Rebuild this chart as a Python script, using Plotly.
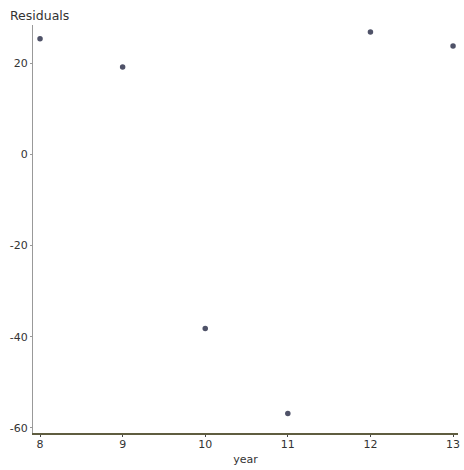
import plotly.graph_objects as go

years = [8, 9, 10, 11, 12, 13]
residuals = [25.3, 19.1, -38.2, -56.8, 26.8, 23.7]

x_ticks = [8, 9, 10, 11, 12, 13]
x_labels = ["8", "9", "10", "11", "12", "13"]
y_ticks = [20, 0, -20, -40, -60]
y_labels = ["20", "0", "-20", "-40", "-60"]

font = dict(family="DejaVu Sans", size=11, color="#333333")

fig = go.Figure(go.Scatter(
    x=years, y=residuals, mode="markers",
    marker=dict(size=5.5, color="#4f5268"),
    showlegend=False, hoverinfo="skip"))

fig.update_layout(
    width=464, height=470,
    margin=dict(l=33, r=6, t=25, b=37),
    paper_bgcolor="white", plot_bgcolor="white",
    font=font,
    xaxis=dict(range=[7.915, 13.06], tickvals=x_ticks, ticktext=x_labels,
               showgrid=False, zeroline=False, showline=True, automargin=False,
               linecolor="#5f5d40", linewidth=2, ticks="outside",
               ticklen=2, tickcolor="#444", ticklabelstandoff=-2,
               title=dict(text="year", standoff=5, font=font)),
    yaxis=dict(range=[-61.1, 28.33], tickvals=y_ticks, ticktext=y_labels,
               showgrid=False, zeroline=False, showline=True, automargin=False,
               linecolor="#999999", linewidth=1, ticks="outside",
               ticklen=2, tickcolor="#999"),
    annotations=[dict(text="Residuals", x=-0.059, y=1.024, xref="paper", yref="paper",
                      xanchor="left", yanchor="middle", showarrow=False,
                      font=dict(family="DejaVu Sans", size=12.5, color="#333333"))],
)
fig.write_html("out.html", config={"displayModeBar": False},
               post_script="document.body.style.margin='0';document.body.style.overflow='hidden';")
